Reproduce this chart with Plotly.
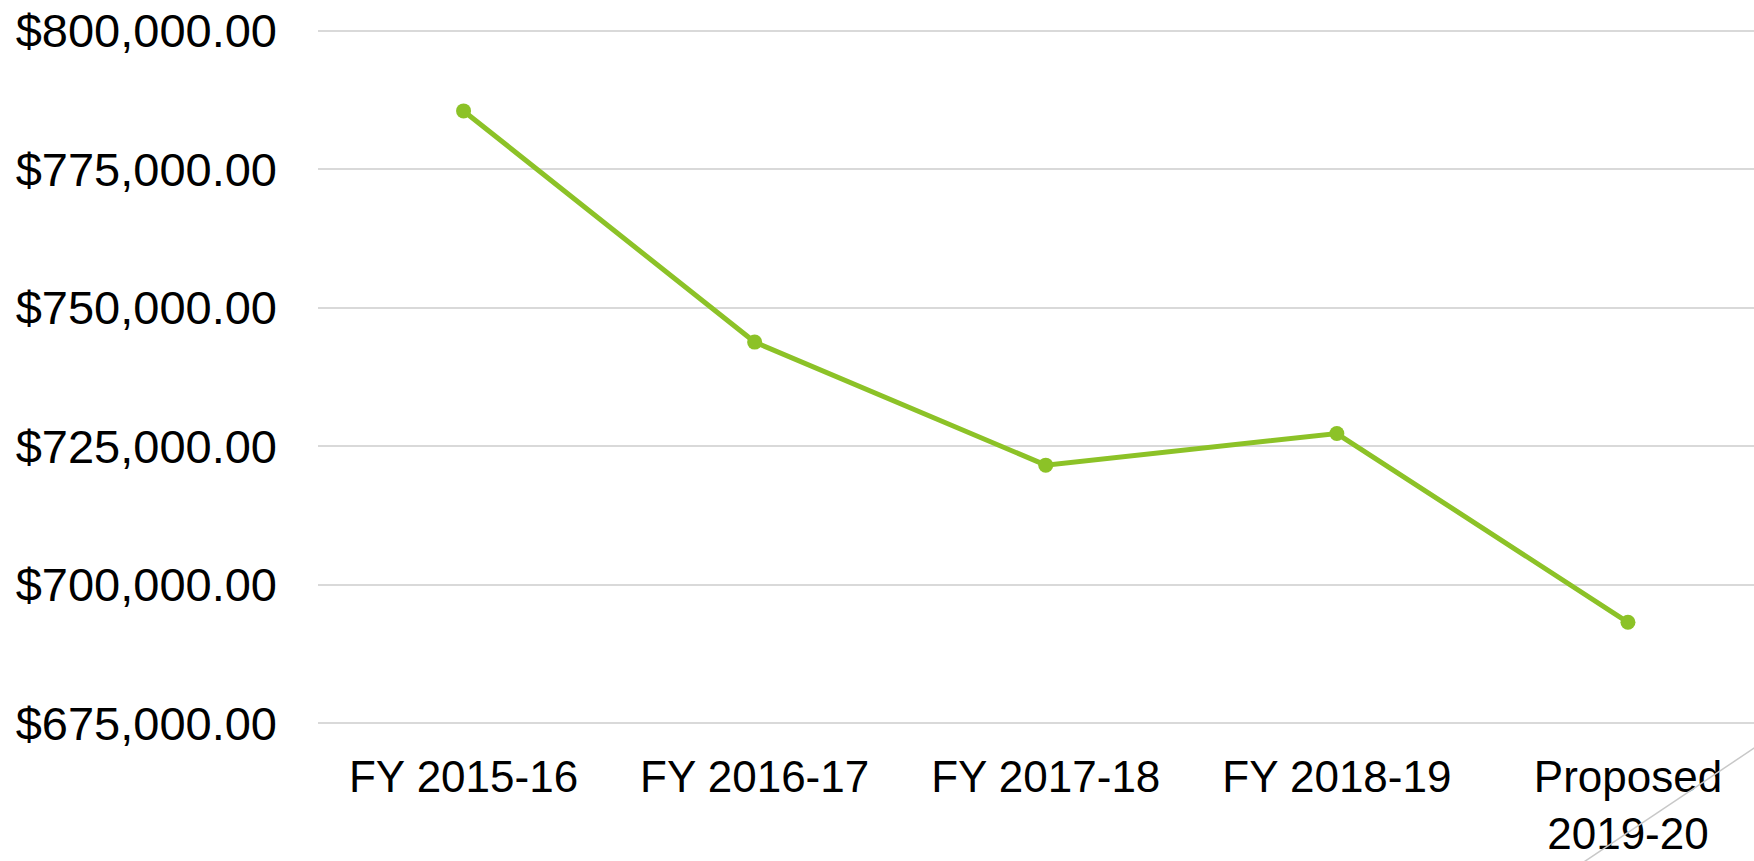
import plotly.graph_objects as go

categories = ["FY 2015-16", "FY 2016-17", "FY 2017-18", "FY 2018-19", "Proposed<br>2019-20"]
values = [785500, 743800, 721600, 727300, 693250]
tick_values = [675000, 700000, 725000, 750000, 775000, 800000]
tick_labels = ["$675,000.00", "$700,000.00", "$725,000.00", "$750,000.00", "$775,000.00", "$800,000.00"]

GREEN = "#8CC227"
GRID = "#D9D9D9"
FONT = "Liberation Sans"

fig = go.Figure()
fig.add_trace(go.Scatter(
    x=list(range(len(categories))), y=values, mode="lines+markers",
    line=dict(color=GREEN, width=5),
    marker=dict(color=GREEN, size=15),
    showlegend=False, hoverinfo="skip",
))

fig.update_layout(
    width=1754, height=861,
    margin=dict(l=318, r=0, t=25, b=132, pad=0),
    paper_bgcolor="white", plot_bgcolor="white",
    font=dict(family=FONT, color="black", size=44),
    xaxis=dict(
        range=[-0.5, 4.433], automargin=False,
        tickmode="array", tickvals=list(range(len(categories))), ticktext=categories,
        showgrid=False, zeroline=False, showline=False,
        ticks="", tickfont=dict(size=44, family=FONT),
        ticklabelstandoff=18,
    ),
    yaxis=dict(
        range=[674000, 801000], automargin=False,
        tickmode="array", tickvals=tick_values, ticktext=tick_labels,
        showgrid=True, gridcolor=GRID, gridwidth=1.5,
        zeroline=False, showline=False, ticks="",
        tickfont=dict(size=47, family=FONT),
        ticklabelstandoff=40,
    ),
    shapes=[dict(
        type="line", xref="paper", yref="paper",
        x0=1.032, y0=0.0164, x1=0.8625, y1=-0.2148,
        line=dict(color="#C8C8C8", width=1.5), layer="above",
    )],
)

fig.write_html("out.html", config={"displayModeBar": False},
               post_script="document.body.style.margin='0';")
